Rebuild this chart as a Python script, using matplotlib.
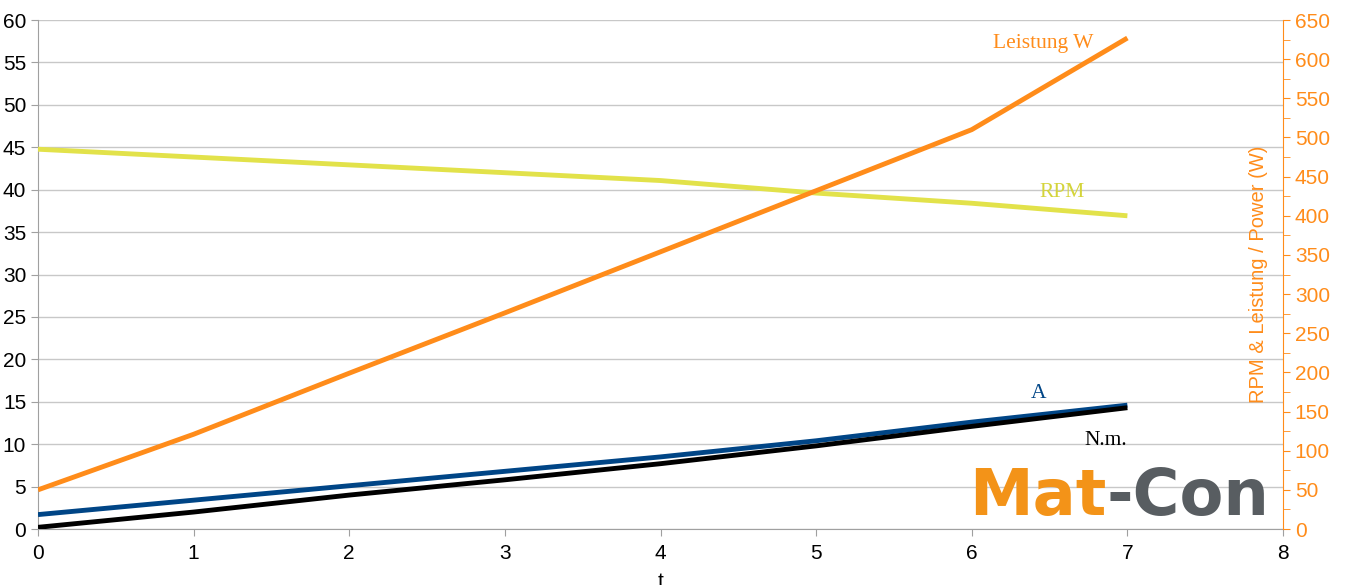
import matplotlib.pyplot as plt
from matplotlib.ticker import MultipleLocator

# data
t = [0, 1, 2, 3, 4, 5, 6, 7]
leistung_w = [50, 121, 199, 276, 354, 432, 510, 627]
rpm = [485, 475, 465, 455, 445, 429, 416, 400]
amps = [1.7, 3.4, 5.1, 6.8, 8.5, 10.4, 12.6, 14.6]
torque_nm = [0.2, 2.0, 4.0, 5.8, 7.7, 9.8, 12.1, 14.3]

ORANGE = "#ff8c1a"
YELLOW = "#e2e24a"
BLUE = "#004586"
GRID = "#c8c8c8"

plt.rcParams["font.family"] = ["Liberation Sans", "DejaVu Sans"]

fig = plt.figure(figsize=(13.47, 5.85), dpi=100)
ax = fig.add_axes([0.0282, 0.0957, 0.9243, 0.8701])
ax2 = ax.twinx()

ax.plot(t, amps, color=BLUE, lw=3.5, solid_capstyle="butt", zorder=3)
ax.plot(t, torque_nm, color="black", lw=3.5, solid_capstyle="butt", zorder=3)
ax2.plot(t, rpm, color=YELLOW, lw=3.5, solid_capstyle="butt")
ax2.plot(t, leistung_w, color=ORANGE, lw=3.5, solid_capstyle="butt")

ax.set_xlim(0, 8)
ax.set_ylim(0, 60)
ax2.set_ylim(0, 650)
ax.xaxis.set_major_locator(MultipleLocator(1))
ax.yaxis.set_major_locator(MultipleLocator(5))
ax2.yaxis.set_major_locator(MultipleLocator(50))
ax2.yaxis.set_minor_locator(MultipleLocator(25))

ax.grid(axis="y", color=GRID, lw=1)
ax.set_axisbelow(True)
ax.spines["top"].set_visible(False)
ax.spines["right"].set_visible(False)
for side in ["top", "left", "bottom"]:
    ax2.spines[side].set_visible(False)
ax.spines["left"].set_color("#a0a0a0")
ax.spines["bottom"].set_color("#a0a0a0")
ax2.spines["right"].set_color(ORANGE)

ax.tick_params(axis="both", colors="#a0a0a0", labelcolor="black", labelsize=15, length=5)
ax.tick_params(axis="x", pad=6)
ax2.tick_params(axis="y", which="major", colors=ORANGE, labelsize=15, length=5)
ax2.tick_params(axis="y", which="minor", colors=ORANGE, length=5)

ax.set_xlabel("t", fontsize=15, labelpad=6)
ax2.text(0.98, 0.5, "RPM & Leistung / Power (W)", transform=ax2.transAxes,
         rotation=90, ha="center", va="center", color=ORANGE, fontsize=14.5)

serif = ["Liberation Serif", "DejaVu Serif"]
ax2.text(6.46, 620, "Leistung W", color=ORANGE, family=serif, fontsize=15.5, ha="center", va="center")
ax2.text(6.58, 430, "RPM", color="#d4d43a", family=serif, fontsize=15.5, ha="center", va="center")
ax.text(6.43, 16.0, "A", color=BLUE, family=serif, fontsize=15.5, ha="center", va="center")
ax.text(6.86, 10.4, "N.m.", color="black", family=serif, fontsize=15.5, ha="center", va="center")

# logo
logo_font = dict(fontsize=46, fontweight="bold", family=["DejaVu Sans"], va="bottom")
mat = ax.text(0.748, 0.002, "Mat", transform=ax.transAxes, color="#f39318", ha="left", **logo_font)
ax.annotate("-Con", xy=(1, 0), xycoords=mat, color="#585d61", ha="left", **logo_font)

fig.savefig("out.png", dpi=100)
